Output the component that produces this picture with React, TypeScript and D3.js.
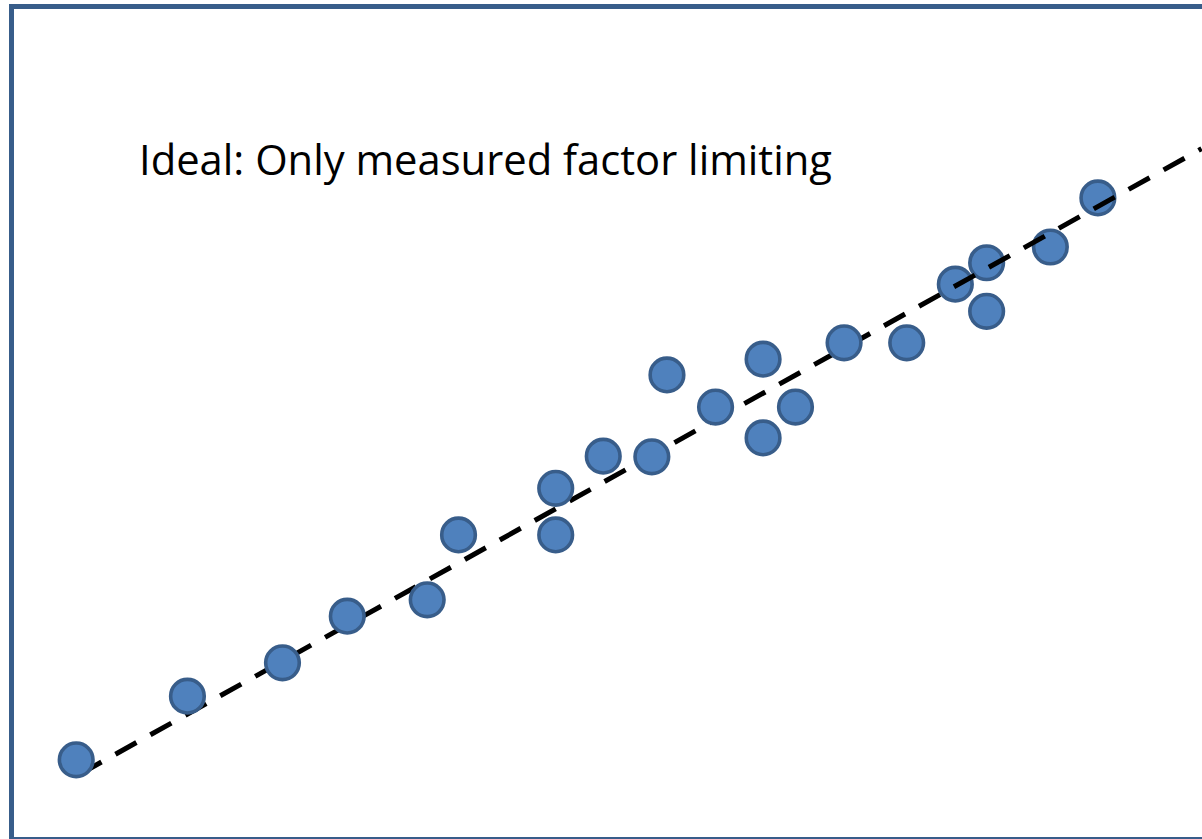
import React from "react";
import * as d3 from "d3";

const W = 1202;
const H = 839;

// Scatter observations (arbitrary units)
const xValues = [1.5, 11.8, 20.6, 26.6, 34.0, 36.9, 45.9, 45.9, 50.3, 54.8, 56.2, 60.7, 65.1, 65.1, 68.1, 72.6, 78.4, 82.9, 85.8, 85.8, 91.7, 96.1];
const yValues = [3.2, 13.3, 18.6, 26.0, 28.6, 38.9, 46.3, 38.9, 51.4, 51.3, 64.3, 59.2, 66.8, 54.3, 59.2, 69.4, 69.4, 78.7, 82.1, 74.4, 84.6, 92.4];
// points that sit beneath the dashed line (drawn before it)
const underLine = [17, 18, 20, 21];

// Ideal line endpoints
const lineX = [1.9, 105.7];
const lineY = [1.0, 100.2];

const title = "Ideal: Only measured factor limiting";

export default function App() {
  const x = d3.scaleLinear().domain([0, 100]).range([60, 1140]);
  const y = d3.scaleLinear().domain([0, 100]).range([780, 150]);
  const pts = xValues.map((v, i) => ({ x: v, y: yValues[i], i }));
  const lineGen = d3
    .line<{ x: number; y: number }>()
    .x((d) => x(d.x))
    .y((d) => y(d.y));
  const linePts = lineX.map((v, i) => ({ x: v, y: lineY[i] }));

  const circle = (d: { x: number; y: number; i: number }) => (
    <circle
      key={d.i}
      cx={x(d.x)}
      cy={y(d.y)}
      r={16.8}
      fill="#4F81BD"
      stroke="#385D8A"
      strokeWidth={3.6}
    />
  );

  return (
    <>
      <style>{`body{margin:0;}`}</style>
      <svg width={W} height={H} style={{ display: "block" }}>
        <rect x={0} y={0} width={W} height={H} fill="#ffffff" />
        <rect
          x={11.5}
          y={6.5}
          width={1210}
          height={833}
          fill="none"
          stroke="#385D8A"
          strokeWidth={5}
        />
        <text
          x={139}
          y={175}
          fontFamily="'Open Sans', sans-serif"
          fontSize={42}
          fill="#000"
          textLength={693}
          lengthAdjust="spacingAndGlyphs"
        >
          {title}
        </text>
        {pts.filter((d) => underLine.includes(d.i)).map(circle)}
        <path
          d={lineGen(linePts) || ""}
          fill="none"
          stroke="#000"
          strokeWidth={5}
          strokeDasharray="24 16"
        />
        {pts.filter((d) => !underLine.includes(d.i)).map(circle)}
      </svg>
    </>
  );
}
